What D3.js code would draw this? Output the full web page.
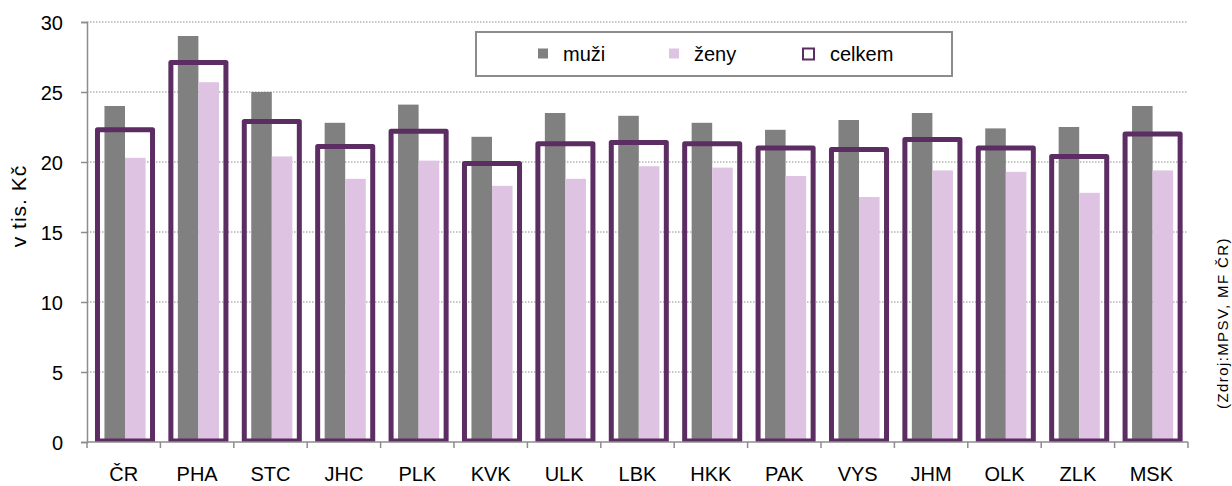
<!DOCTYPE html>
<meta charset="utf-8">
<html lang="cs">
<style>
body { margin: 0; background: #fff; }
svg { font-family: "Liberation Sans", Arial, sans-serif; }
.grid line { stroke: #8c8c8c; stroke-dasharray: 1.5 1.5; }
.axis path, .axis line { stroke: #8c8c8c; stroke-width: 1.5px; }
.axis text { font-size: 20px; fill: #000; }
</style>
<body>
<script src="https://cdn.jsdelivr.net/npm/d3@7"></script>
<script>

// kraje
var kraje = ["ČR", "PHA", "STC", "JHC", "PLK", "KVK", "ULK", "LBK", "HKK", "PAK", "VYS", "JHM", "OLK", "ZLK", "MSK"];
// v tis. Kč
var muzi   = [24.0, 29.0, 25.0, 22.8, 24.1, 21.8, 23.5, 23.3, 22.8, 22.3, 23.0, 23.5, 22.4, 22.5, 24.0];
var zeny   = [20.3, 25.7, 20.4, 18.8, 20.1, 18.3, 18.8, 19.7, 19.6, 19.0, 17.5, 19.4, 19.3, 17.8, 19.4];
var celkem = [22.3, 27.1, 22.9, 21.1, 22.2, 19.9, 21.3, 21.4, 21.3, 21.0, 20.9, 21.6, 21.0, 20.4, 22.0];
var yTicks = [0, 5, 10, 15, 20, 25, 30];

var data = kraje.map(function(k, i) {
  return {kraj: k, muzi: muzi[i], zeny: zeny[i], celkem: celkem[i]};
});

var margin = {top: 22, right: 44, bottom: 44, left: 87},
    width = 1232 - margin.left - margin.right,
    height = 486 - margin.top - margin.bottom;

var x = d3.scaleBand().domain(kraje).range([0, width]);
var y = d3.scaleLinear().domain([0, 30]).range([height, 0]);

var svg = d3.select("body").append("svg")
    .attr("width", 1232)
    .attr("height", 486)
  .append("g")
    .attr("transform", "translate(" + margin.left + "," + margin.top + ")");

// grid
svg.append("g")
    .attr("class", "grid")
  .selectAll("line")
  .data(yTicks.slice(1))
  .enter().append("line")
    .attr("x1", 0)
    .attr("x2", width)
    .attr("y1", function(d) { return y(d); })
    .attr("y2", function(d) { return y(d); });

svg.append("defs").append("clipPath")
    .attr("id", "plot")
  .append("rect")
    .attr("x", -5).attr("y", -5)
    .attr("width", width + 10).attr("height", height + 5);

var bw = x.bandwidth();
var barW = bw * 0.28;
var off = 38 - bw / 2;   // skupina je mirne posunuta doprava

var g = svg.append("g").attr("clip-path", "url(#plot)");

// muzi
g.selectAll(".muzi")
  .data(data)
  .enter().append("rect")
    .attr("class", "muzi")
    .attr("x", function(d) { return x(d.kraj) + bw / 2 + off - barW; })
    .attr("y", function(d) { return y(d.muzi); })
    .attr("width", barW)
    .attr("height", function(d) { return height - y(d.muzi); })
    .attr("fill", "#808080");

// zeny
g.selectAll(".zeny")
  .data(data)
  .enter().append("rect")
    .attr("class", "zeny")
    .attr("x", function(d) { return x(d.kraj) + bw / 2 + off; })
    .attr("y", function(d) { return y(d.zeny); })
    .attr("width", barW)
    .attr("height", function(d) { return height - y(d.zeny); })
    .attr("fill", "#dec3e3");

// celkem - jen obrys
var cw = bw * 0.75;
g.selectAll(".celkem")
  .data(data)
  .enter().append("rect")
    .attr("class", "celkem")
    .attr("x", function(d) { return x(d.kraj) + bw / 2 + off - cw / 2; })
    .attr("y", function(d) { return y(d.celkem); })
    .attr("width", cw)
    .attr("height", function(d) { return height - y(d.celkem) - 1; })
    .attr("fill", "none")
    .attr("stroke", "#5c2d62")
    .attr("stroke-width", 5)
    .attr("stroke-linejoin", "round");

// osa Y
var yAxis = svg.append("g")
    .attr("class", "axis")
    .call(d3.axisLeft(y).tickValues(yTicks).tickSize(6).tickPadding(18));
yAxis.selectAll("text").attr("dy", "0.35em");

// osa X
var xAxis = svg.append("g")
    .attr("class", "axis")
    .attr("transform", "translate(0," + height + ")")
    .call(d3.axisBottom(x).tickSize(0).tickPadding(25));
xAxis.select(".domain").attr("d", "M0,0H" + width);
xAxis.selectAll(".sep")
  .data(kraje.concat(["_end"]))
  .enter().append("line")
    .attr("class", "sep")
    .attr("x1", function(d, i) { return i * bw; })
    .attr("x2", function(d, i) { return i * bw; })
    .attr("y1", 0)
    .attr("y2", 6);

// popisek osy Y
svg.append("text")
    .attr("transform", "translate(" + (-61) + "," + 184 + ") rotate(-90)")
    .attr("text-anchor", "middle")
    .style("font-size", "21px")
    .style("letter-spacing", "1px")
    .text("v tis. Kč");

// zdroj
svg.append("text")
    .attr("transform", "translate(" + (width + 40) + "," + 301 + ") rotate(-90)")
    .attr("text-anchor", "middle")
    .style("font-size", "15px")
    .style("letter-spacing", "1.4px")
    .text("(Zdroj:MPSV, MF ČR)");

// legenda
var leg = svg.append("g").attr("transform", "translate(" + (476 - margin.left) + "," + (32 - margin.top) + ")");
leg.append("rect")
    .attr("width", 476).attr("height", 44)
    .attr("fill", "#fff")
    .attr("stroke", "#8c8c8c")
    .attr("stroke-width", 2);

var legItems = [
  {name: "muži", x: 62, fill: "#808080", stroke: "none"},
  {name: "ženy", x: 193, fill: "#dec3e3", stroke: "none"},
  {name: "celkem", x: 327, fill: "#fff", stroke: "#5c2d62"}
];
var li = leg.selectAll(".li")
  .data(legItems)
  .enter().append("g")
    .attr("transform", function(d) { return "translate(" + d.x + ",22)"; });
li.append("rect")
    .attr("x", 0).attr("y", -5.5)
    .attr("width", function(d) { return d.stroke == "none" ? 10 : 11; })
    .attr("height", function(d) { return d.stroke == "none" ? 10 : 11; })
    .attr("fill", function(d) { return d.fill; })
    .attr("stroke", function(d) { return d.stroke; })
    .attr("stroke-width", 2);
li.append("text")
    .attr("x", function(d) { return d.stroke == "none" ? 25 : 27; })
    .attr("dy", "0.35em")
    .style("font-size", "20px")
    .text(function(d) { return d.name; });

</script>
</body>
</html>
